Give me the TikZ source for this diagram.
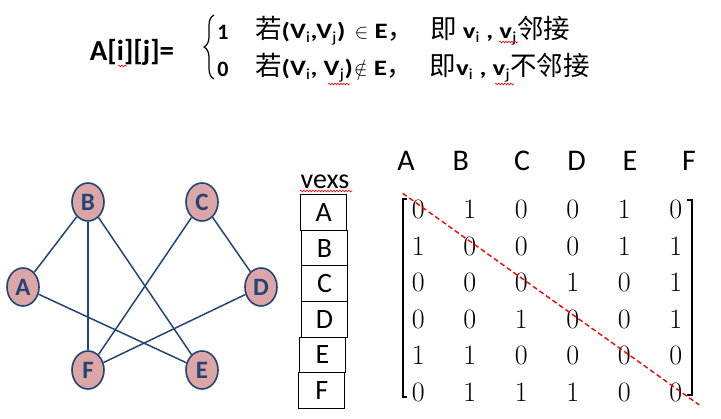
\documentclass[tikz,border=0pt]{standalone}
\usepackage{fontspec}
\setmainfont{Carlito}
\newfontfamily\rowfont[FakeStretch=1.22]{Carlito}
\newfontfamily\cjk{Noto Sans CJK SC}
\newfontfamily\digitfont{Latin Modern Roman}
\usetikzlibrary{shapes.geometric,matrix,decorations.pathreplacing,decorations.pathmorphing}
\definecolor{vblue}{RGB}{34,68,118}
\definecolor{vpink}{RGB}{221,166,166}
\newcommand{\zh}[1]{{\cjk\mdseries\fontsize{26.5}{26.5}\selectfont #1}}
\newcommand{\sub}[1]{\textsubscript{\mdseries #1}}

\begin{document}
\begin{tikzpicture}[
  x=1pt, y=-1pt,
  vertex/.style={ellipse, draw=vblue, fill=vpink, line width=1.6pt, minimum width=32pt, minimum height=38pt, inner sep=0pt, text=vblue, font=\fontsize{25}{25}\selectfont\bfseries},
  edge/.style={vblue, line width=1.5pt},
  vexbox/.style={rectangle, draw, line width=0.8pt, minimum width=46pt, minimum height=35.6pt, inner sep=0pt, font=\fontsize{28}{28}\selectfont},
  colhead/.style={font=\fontsize{30}{30}\selectfont, inner sep=0pt},
  rowtext/.style={anchor=base west, inner sep=0pt, font=\rowfont\fontsize{22}{22}\selectfont\bfseries},
  squiggle/.style={red, line width=0.6pt, decorate, decoration={snake, amplitude=0.9pt, segment length=3pt}},
  node distance=54pt
]
\useasboundingbox (0,0) rectangle (721,419);

% definition of A[i][j]
\node[font=\fontsize{29}{29}\selectfont\bfseries] (def) at (132,52) {A[i][j]=};
\draw[line width=1.2pt, decorate, decoration={brace, amplitude=10pt}] (214,79) -- (214,15);
\node[anchor=base, inner sep=0pt, font=\fontsize{22}{22}\selectfont\bfseries] (one) at (223,40) {1};
\node[anchor=base, inner sep=0pt, font=\fontsize{22}{22}\selectfont\bfseries] (zero) at (223,77) {0};
\node[rowtext] (rowone) at (255,39)
  {\zh{若}(V\sub{i},V\sub{j})\hspace{3pt} $\in$ E\zh{，}\hspace{10pt} \zh{即} v\sub{i} , v\sub{j}\zh{邻接}};
\node[rowtext] (rowzero) at (255,76)
  {\zh{若}(V\sub{i}, V\sub{j})\hspace{1pt}$\notin$ E\zh{，}\hspace{10pt} \zh{即}v\sub{i} , v\sub{j}\zh{不邻接}};
\draw[squiggle] (118,66) -- (127,66);
\draw[squiggle] (499,42) -- (518,42);
\draw[squiggle] (328,84) -- (350,84);
\draw[squiggle] (495,84) -- (514,84);

% graph
\node[vertex] (B) at (88,202) {B};
\node[vertex] (C) at (202,202) {C};
\node[vertex] (A) at (23,287) {A};
\node[vertex] (D) at (261,287) {D};
\node[vertex] (F) at (88,370) {F};
\node[vertex] (E) at (202,370) {E};

\draw[edge] (A) -- (B);
\draw[edge] (A) -- (E);
\draw[edge] (B) -- (F);
\draw[edge] (B) -- (E);
\draw[edge] (C) -- (F);
\draw[edge] (C) -- (D);
\draw[edge] (D) -- (F);

% vertex array
\node[font=\fontsize{28}{28}\selectfont, inner sep=0pt] (vexs) at (325,181.7) {vexs};
\draw[squiggle] (300,191) -- (352,191);
\node[vexbox] (vA) at (323.7,212.5) {A};
\node[vexbox, below of=vA, node distance=35.6pt, xshift=0.8pt] (vB) {B};
\node[vexbox, below of=vB, node distance=35.6pt] (vC) {C};
\node[vexbox, below of=vC, node distance=35.6pt] (vD) {D};
\node[vexbox, below of=vD, node distance=35.6pt, xshift=-2pt] (vE) {E};
\node[vexbox, below of=vE, node distance=35.6pt, xshift=-0.8pt] (vF) {F};

% adjacency matrix
\node[colhead] (hA) at (406,161) {A};
\node[colhead, right of=hA, node distance=54.7pt] (hB) {B};
\node[colhead, right of=hB, node distance=61.3pt] (hC) {C};
\node[colhead, right of=hC, node distance=54.7pt] (hD) {D};
\node[colhead, right of=hD, node distance=53.3pt] (hE) {E};
\node[colhead, right of=hE, node distance=59pt] (hF) {F};

\matrix (adj) at (547,300.8) [matrix of nodes, row sep=0pt, column sep=0pt,
  nodes={minimum width=51.5pt, minimum height=36.3pt, inner sep=0pt, font=\digitfont\fontsize{28}{28}\selectfont}] {
0 & 1 & 0 & 0 & 1 & 0 \\
1 & 0 & 0 & 0 & 1 & 1 \\
0 & 0 & 0 & 1 & 0 & 1 \\
0 & 0 & 1 & 0 & 0 & 1 \\
1 & 1 & 0 & 0 & 0 & 0 \\
0 & 1 & 1 & 1 & 0 & 0 \\
};
\draw[line width=2.5pt] (407,199) -- (403,199) -- (403,397) -- (407,397);
\draw[line width=2.5pt] (687,200) -- (692,200) -- (692,395) -- (687,395);
\draw[red, line width=1.4pt, dash pattern=on 5pt off 3pt] (402.7,193.3) -- (699.3,405);
\end{tikzpicture}
\end{document}
